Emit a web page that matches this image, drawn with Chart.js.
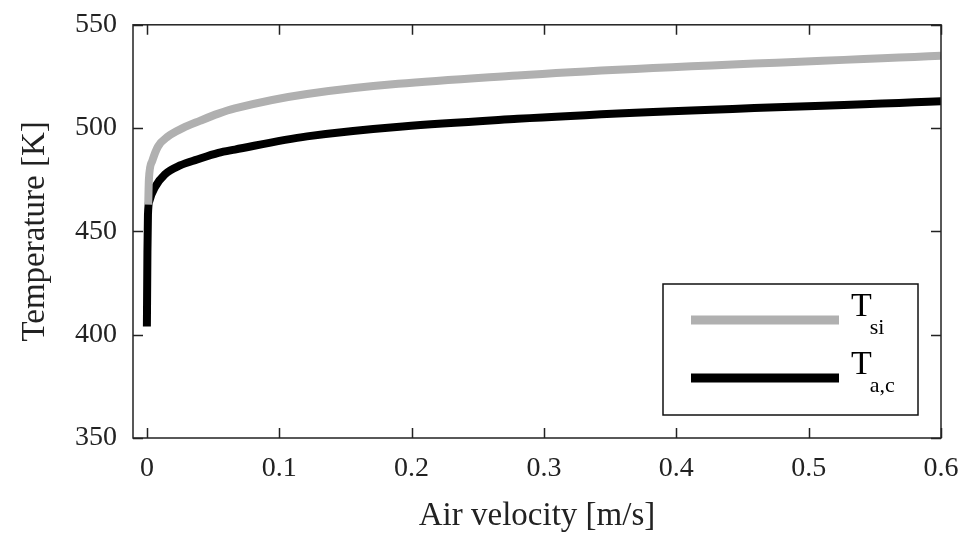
<!DOCTYPE html>
<html>
<head>
<meta charset="utf-8">
<script src="https://cdn.jsdelivr.net/npm/chart.js@4/dist/chart.umd.min.js"></script>
<style>
  html, body { margin: 0; padding: 0; background: #fff; }
  #wrap { width: 965px; height: 533px; }
</style>
</head>
<body>
<div id="wrap"><canvas id="tempChart" width="965" height="533"></canvas></div>
<script>
// air velocity [m/s] and temperatures [K]
const siVelocity = [0.001, 0.0015, 0.004, 0.0083, 0.016, 0.027, 0.040, 0.054, 0.0665, 0.121, 0.28, 0.6];
const siTemp     = [463, 475, 484, 491, 496, 500, 503.5, 507, 509.5, 516.5, 525.5, 535];
const acVelocity = [0.0, 0.0004, 0.0008, 0.002, 0.006, 0.0136, 0.025, 0.038, 0.054, 0.0665, 0.121, 0.28, 0.6];
const acTemp     = [404, 440, 458, 465, 471.3, 477.6, 481.9, 484.8, 488, 489.6, 496, 504.5, 513];
const xTicks = [0, 0.1, 0.2, 0.3, 0.4, 0.5, 0.6];
const yTicks = [350, 400, 450, 500, 550];
const seriesNames = ['T|si', 'T|a,c'];

const serif = '"Liberation Serif", "DejaVu Serif", serif';

function toPoints(xs, ys) {
    return xs.map((x, i) => ({ x: x, y: ys[i] }));
}

// frame, inward ticks on all four sides, and the boxed legend
const framePlugin = {
    id: 'frame',
    afterDatasetsDraw(chart) {
        const ctx = chart.ctx;
        const a = chart.chartArea;
        const xs = chart.scales.x;
        const ys = chart.scales.y;
        ctx.save();
        ctx.strokeStyle = '#222';
        ctx.lineWidth = 1.5;
        ctx.strokeRect(a.left, a.top, a.right - a.left, a.bottom - a.top);
        ctx.beginPath();
        xTicks.forEach(v => {
            const px = Math.round(xs.getPixelForValue(v)) + 0.5;
            ctx.moveTo(px, a.bottom); ctx.lineTo(px, a.bottom - 10);
            ctx.moveTo(px, a.top); ctx.lineTo(px, a.top + 10);
        });
        yTicks.forEach(v => {
            const py = Math.round(ys.getPixelForValue(v)) + 0.5;
            ctx.moveTo(a.left, py); ctx.lineTo(a.left + 10, py);
            ctx.moveTo(a.right, py); ctx.lineTo(a.right - 10, py);
        });
        ctx.stroke();

        // legend
        const box = { x: 663, y: 284, w: 255, h: 131 };
        ctx.lineWidth = 1.5;
        ctx.strokeStyle = '#111';
        ctx.fillStyle = '#fff';
        ctx.fillRect(box.x, box.y, box.w, box.h);
        ctx.strokeRect(box.x, box.y, box.w, box.h);
        const rows = [320, 378];
        chart.data.datasets.forEach((ds, i) => {
            ctx.strokeStyle = ds.borderColor;
            ctx.lineWidth = 9;
            ctx.lineCap = 'butt';
            ctx.beginPath();
            ctx.moveTo(691, rows[i]);
            ctx.lineTo(839, rows[i]);
            ctx.stroke();
            const parts = seriesNames[i].split('|');
            ctx.fillStyle = '#000';
            ctx.textBaseline = 'alphabetic';
            ctx.textAlign = 'left';
            ctx.font = '34px ' + serif;
            ctx.fillText(parts[0], 851, rows[i] - 4);
            const tw = ctx.measureText(parts[0]).width;
            ctx.font = '22px ' + serif;
            ctx.fillText(parts[1], 849 + tw, rows[i] + 14);
        });
        ctx.restore();
    }
};

new Chart(document.getElementById('tempChart').getContext('2d'), {
    type: 'line',
    data: {
        datasets: [
            {
                label: 'Tsi',
                data: toPoints(siVelocity, siTemp),
                borderColor: '#b0b0b0',
                borderWidth: 8,
                pointRadius: 0,
                cubicInterpolationMode: 'monotone',
                borderJoinStyle: 'round'
            },
            {
                label: 'Ta,c',
                data: toPoints(acVelocity, acTemp),
                borderColor: '#000000',
                borderWidth: 8,
                pointRadius: 0,
                cubicInterpolationMode: 'monotone',
                borderJoinStyle: 'round'
            }
        ]
    },
    options: {
        responsive: false,
        animation: false,
        layout: { padding: { top: 21, right: 24, left: 0, bottom: 0 } },
        plugins: {
            legend: { display: false },
            tooltip: { enabled: false }
        },
        scales: {
            x: {
                type: 'linear',
                min: -0.0105,
                max: 0.6,
                afterBuildTicks: s => { s.ticks = xTicks.map(v => ({ value: v })); },
                afterFit: s => { s.height = 95; s.paddingRight = 0; s.paddingLeft = 0; },
                grid: { display: false },
                border: { display: false },
                ticks: {
                    color: '#222',
                    padding: 6,
                    font: { family: serif, size: 28 },
                    callback: v => String(v)
                },
                title: {
                    display: true,
                    text: 'Air velocity [m/s]',
                    color: '#222',
                    font: { family: serif, size: 33 },
                    padding: { top: 0, bottom: -3 }
                }
            },
            y: {
                min: 350,
                max: 550,
                afterBuildTicks: s => { s.ticks = yTicks.map(v => ({ value: v })); },
                afterFit: s => { s.width = 133; },
                grid: { display: false },
                border: { display: false },
                ticks: {
                    color: '#222',
                    padding: 8,
                    font: { family: serif, size: 28 },
                    callback: v => String(v)
                },
                title: {
                    display: true,
                    text: 'Temperature [K]',
                    color: '#222',
                    font: { family: serif, size: 33 },
                    padding: { top: 16, bottom: 0 }
                }
            }
        }
    },
    plugins: [framePlugin]
});
</script>
</body>
</html>
